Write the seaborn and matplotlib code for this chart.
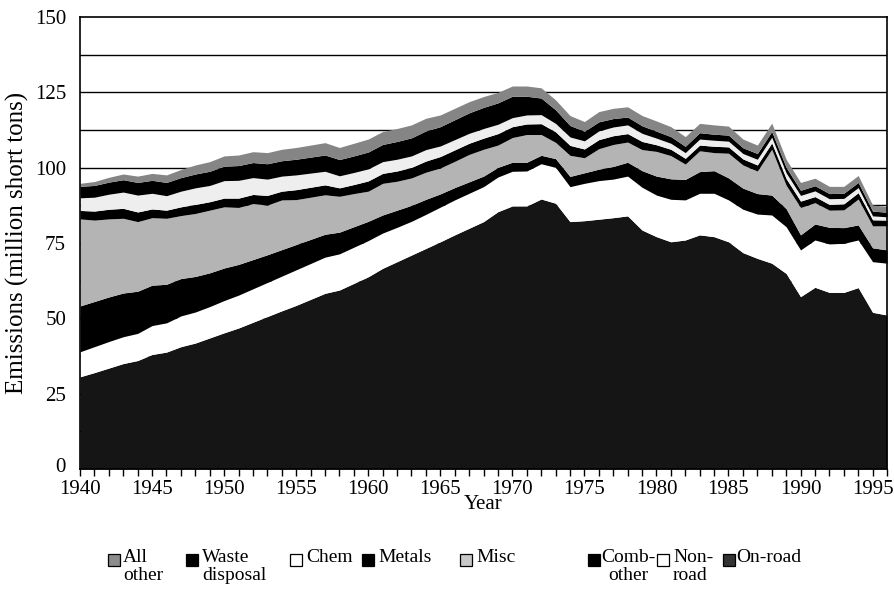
import matplotlib
matplotlib.use("Agg")
import matplotlib.pyplot as plt
import matplotlib.transforms as mtransforms
import seaborn as sns
import numpy as np
import pandas as pd
from matplotlib.patches import Rectangle

years = list(range(1940, 1997))

on_road = [30.6, 32.0, 33.5, 35.0, 36.0, 38.0, 38.8, 40.6, 41.8, 43.5,
           45.2, 46.8, 48.7, 50.6, 52.5, 54.3, 56.3, 58.3, 59.4, 61.6,
           63.8, 66.6, 68.8, 71.0, 73.2, 75.4, 77.7, 79.9, 82.1, 85.4,
           87.3, 87.3, 89.6, 88.2, 82.1, 82.4, 82.9, 83.4, 84.0, 79.3,
           77.1, 75.4, 76.0, 77.7, 77.1, 75.4, 71.8, 69.9, 68.3, 64.9,
           57.2, 60.3, 58.6, 58.6, 60.2, 52.0, 51.1]

non_road = [8.3, 8.6, 8.8, 8.9, 9.0, 9.6, 9.7, 10.2, 10.3, 10.4,
            10.7, 10.9, 11.1, 11.3, 11.5, 11.8, 11.9, 12.0, 12.0, 12.0,
            12.0, 11.7, 11.4, 11.2, 11.3, 11.5, 11.6, 11.6, 11.6, 11.5,
            11.5, 11.6, 11.7, 11.9, 11.6, 12.4, 12.8, 12.8, 13.2, 14.2,
            13.8, 14.1, 13.3, 13.8, 14.4, 13.9, 14.4, 14.7, 16.0, 15.5,
            15.5, 15.7, 16.1, 16.3, 15.8, 16.8, 17.2]

comb_other = [15.2, 15.0, 14.8, 14.5, 14.0, 13.4, 12.8, 12.4, 11.8, 11.2,
              10.8, 10.2, 9.7, 9.2, 8.8, 8.4, 8.0, 7.6, 7.2, 6.8,
              6.4, 6.0, 5.7, 5.3, 5.0, 4.4, 4.1, 3.8, 3.5, 3.2,
              3.0, 2.9, 2.8, 2.9, 3.4, 3.5, 3.8, 4.2, 4.6, 5.5,
              6.3, 6.8, 6.8, 7.2, 7.5, 7.3, 7.0, 6.8, 6.6, 6.0,
              5.0, 5.3, 5.5, 5.2, 5.0, 4.6, 4.4]

misc = [28.9, 27.0, 25.9, 24.8, 23.1, 22.4, 21.9, 20.9, 20.9, 20.8,
        20.3, 18.9, 18.6, 16.5, 16.5, 14.9, 14.0, 13.1, 11.9, 11.0,
        10.0, 10.5, 9.6, 9.1, 9.0, 8.6, 8.7, 9.1, 8.9, 7.4,
        8.2, 9.2, 6.9, 5.4, 7.0, 5.0, 6.8, 7.3, 6.7, 7.0,
        8.2, 7.7, 5.1, 6.9, 6.0, 8.2, 7.7, 7.5, 15.2, 7.8,
        9.1, 7.1, 5.7, 5.9, 8.6, 7.3, 8.0]

metals = [2.8, 3.0, 3.2, 3.3, 3.2, 2.9, 2.7, 2.9, 3.0, 2.8,
          2.9, 3.1, 3.0, 3.2, 2.9, 3.3, 3.3, 3.3, 2.8, 3.0,
          3.4, 3.3, 3.4, 3.5, 3.7, 3.8, 3.8, 3.7, 3.7, 3.8,
          3.6, 3.5, 3.6, 3.5, 3.3, 2.9, 3.0, 2.9, 2.8, 2.7,
          2.2, 2.1, 1.9, 1.9, 2.1, 2.1, 2.0, 2.0, 2.1, 2.2,
          2.1, 2.0, 1.9, 2.0, 2.1, 2.0, 1.9]

chem = [4.2, 4.6, 5.0, 5.4, 5.6, 5.2, 4.8, 5.2, 5.5, 5.4,
        5.8, 5.9, 5.6, 5.4, 5.0, 4.9, 4.7, 4.5, 4.0, 4.0,
        4.0, 3.9, 3.9, 3.8, 3.8, 3.5, 3.4, 3.3, 3.2, 3.1,
        3.0, 3.0, 3.0, 2.8, 2.8, 2.7, 2.9, 2.9, 2.9, 2.7,
        2.2, 2.0, 1.9, 2.0, 2.0, 1.9, 1.8, 1.9, 1.9, 1.9,
        1.9, 1.9, 1.9, 1.8, 1.7, 1.3, 1.1]

waste_disposal = [3.8, 3.9, 4.0, 4.1, 4.2, 4.3, 4.4, 4.5, 4.6, 4.7,
                  4.8, 4.9, 5.0, 5.1, 5.1, 5.2, 5.3, 5.4, 5.4, 5.5,
                  5.6, 5.7, 5.9, 6.0, 6.2, 6.4, 6.6, 6.8, 7.0, 7.1,
                  7.1, 6.2, 5.5, 4.5, 3.8, 3.2, 3.0, 2.8, 2.6, 2.5,
                  2.3, 2.2, 2.1, 2.1, 2.0, 2.0, 1.9, 1.9, 1.9, 1.8,
                  1.7, 1.7, 1.7, 1.7, 1.7, 1.6, 1.5]

all_other = [1.0, 1.3, 1.6, 1.9, 2.1, 2.3, 2.5, 2.7, 3.0, 3.2,
             3.4, 3.5, 3.6, 3.7, 3.8, 3.9, 4.0, 4.1, 4.0, 4.2,
             4.3, 4.3, 4.3, 4.3, 4.2, 3.9, 3.8, 3.7, 3.6, 3.5,
             3.4, 3.4, 3.4, 3.3, 3.3, 3.2, 3.4, 3.4, 3.4, 3.4,
             3.4, 3.3, 3.2, 3.1, 3.1, 3.0, 2.9, 2.8, 2.8, 2.7,
             2.6, 2.5, 2.4, 2.3, 2.3, 2.0, 1.9]

x_tick_labels = [str(y) for y in range(1940, 1996, 5)]
y_tick_values = [0, 25, 50, 75, 100, 125, 150]

# stacking order bottom -> top
series = [
    ("On-road", on_road, "#151515"),
    ("Non-road", non_road, "#ffffff"),
    ("Comb-other", comb_other, "#000000"),
    ("Misc", misc, "#b4b4b4"),
    ("Metals", metals, "#000000"),
    ("Chem", chem, "#eeeeee"),
    ("Waste disposal", waste_disposal, "#000000"),
    ("All other", all_other, "#858585"),
]

df = pd.DataFrame({"year": years})
for name, vals, _ in series:
    df[name] = vals

sns.set_theme(style="ticks")
plt.rcParams['font.family'] = ['Liberation Serif', 'DejaVu Serif']

W, H = 894, 593
fig = plt.figure(figsize=(W / 100, H / 100), dpi=100)
ax = fig.add_axes([80 / W, 1 - 469 / H, (887 - 80) / W, (469 - 17) / H])

# horizontal reference lines (mostly hidden behind the areas)
for v in np.arange(12.5, 150, 12.5):
    ax.axhline(v, color="black", lw=1.0, zorder=1)

ax.stackplot(df["year"], [df[n] for n, _, _ in series],
             colors=[c for _, _, c in series], linewidth=0, zorder=2)

ax.set_xlim(1940, 1996)
ax.set_ylim(0, 150)
ax.set_xticks(list(range(1940, 1996, 5)))
ax.set_xticklabels(x_tick_labels)
ax.set_xticks(list(range(1940, 1997)), minor=True)
ax.set_yticks(y_tick_values)
ax.tick_params(axis="x", which="both", direction="out", length=5, width=1,
               color="black", labelsize=15, pad=3, labelcolor="black")
ax.tick_params(axis="y", which="both", length=0, labelsize=15, pad=10,
               labelcolor="black")
# nudge the "0" label up a little so it clears the "1940" label
zero_lbl = ax.get_yticklabels()[0]
zero_lbl.set_transform(zero_lbl.get_transform() +
                       mtransforms.ScaledTranslation(0, 3 / 72, fig.dpi_scale_trans))
for s in ax.spines.values():
    s.set_color("black")
    s.set_linewidth(1.2)
    s.set_zorder(5)

ax.set_xlabel("Year", fontsize=15, labelpad=-3, color="black")
ax.set_ylabel("Emissions (million short tons)", fontsize=18, labelpad=4,
              color="black")

# legend below the plot (reverse stacking order)
legend_items = [
    ("All\nother", "#8c8c8c", 108, 15, "left"),
    ("Waste\ndisposal", "#000000", 186, 16, "left"),
    ("Chem", "#ffffff", 290, 16, "left"),
    ("Metals", "#000000", 362, 16, "left"),
    ("Misc", "#c8c8c8", 460, 16, "left"),
    ("Comb-\nother", "#000000", 588, 13, "center"),
    ("Non-\nroad", "#ffffff", 657, 16, "left"),
    ("On-road", "#333333", 723, 13, "left"),
]
box = 12
for label, col, xl, gap, align in legend_items:
    fig.add_artist(Rectangle((xl / W, 1 - 566 / H), box / W, box / H,
                             transform=fig.transFigure, facecolor=col,
                             edgecolor="black", linewidth=0.9))
    fig.text((xl + gap) / W, 1 - 549 / H, label, ha="left", va="top",
             fontsize=14, linespacing=1.05, multialignment=align,
             color="black")

fig.savefig("out.png", dpi=100, facecolor="white")
